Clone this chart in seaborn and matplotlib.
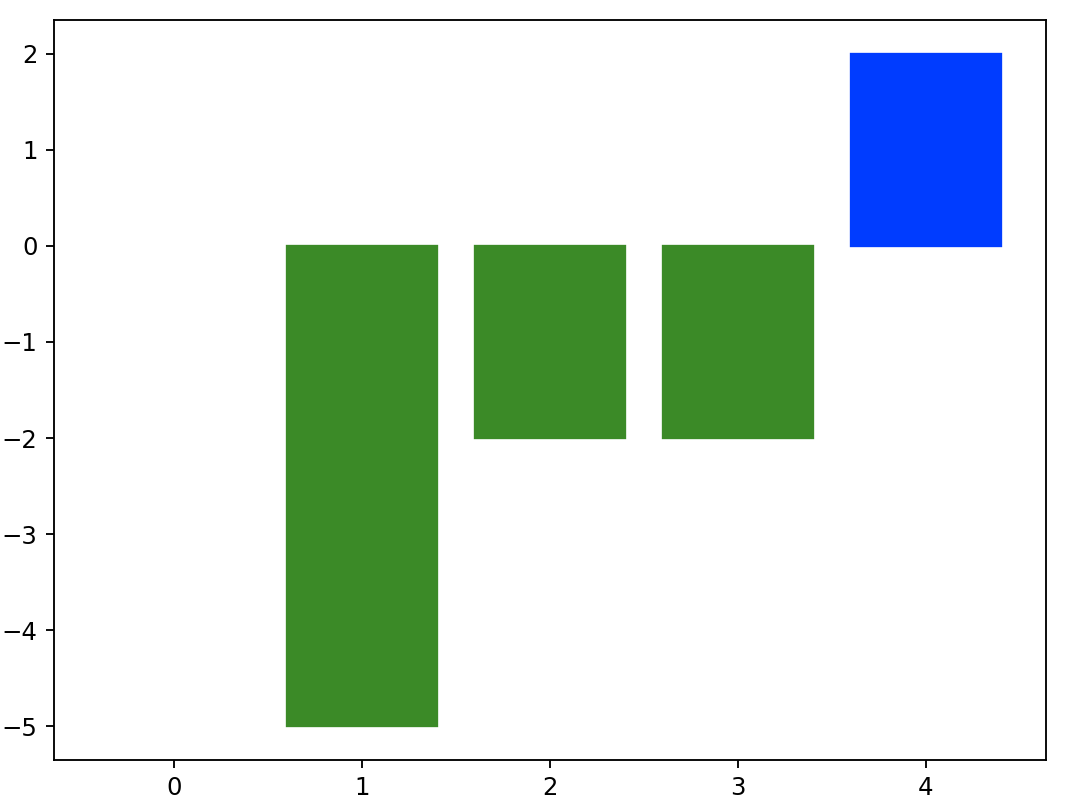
import pandas as pd
import matplotlib.pyplot as plt
import seaborn as sns

# Bar data
positions = [0, 1, 2, 3, 4]
values = [0, -5, -2, -2, 2]
colors = ['#3b8a27', '#3b8a27', '#3b8a27', '#3b8a27', '#003cff']

df = pd.DataFrame({'x': positions, 'y': values})

fig = plt.figure(figsize=(1070 / 167.2, 810 / 167.2), dpi=167.2)
ax = fig.add_axes([54 / 1070, 1 - 760 / 810, 992 / 1070, 740 / 810])
sns.barplot(data=df, x='x', y='y', hue='x', palette=colors, legend=False,
            saturation=1, width=0.8, linewidth=1, ax=ax)

# bars outlined in their own colour, empty bars stay invisible
for bar, c, v in zip(ax.patches, colors, values):
    bar.set_edgecolor(c)
    if v == 0:
        bar.set_linewidth(0)

# Back to matplotlib default margins
ax.autoscale(enable=True, axis='both')
ax.relim()
ax.autoscale_view()
ax.set_xlabel('')
ax.set_ylabel('')
ax.set_yticks([-5, -4, -3, -2, -1, 0, 1, 2])
ax.tick_params(labelsize=10.5)

fig.savefig('out.png', dpi=167.2)
